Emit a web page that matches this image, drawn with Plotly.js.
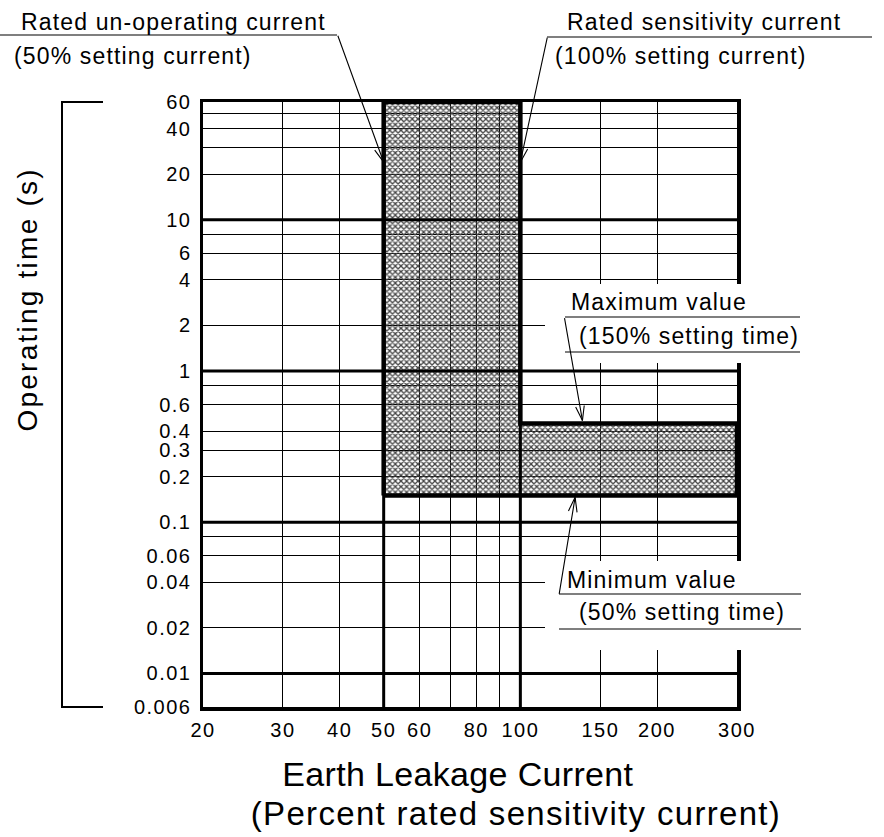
<!DOCTYPE html>
<html><head><meta charset="utf-8">
<script src="https://cdn.plot.ly/plotly-3.0.1.min.js"></script>
<style>
body{margin:0;background:#fff}
#chart{width:884px;height:837px}
.xtick text,.ytick text{letter-spacing:1.5px}
.annotation-text{letter-spacing:0.05em}
g.annotation[data-index="20"] text{letter-spacing:0.01em}
g.annotation[data-index="21"] text{letter-spacing:0.04em}
g.annotation[data-index="22"] text{letter-spacing:0.08em}
</style></head><body><div id="chart"></div><script>
const FONT = '"Liberation Sans", Arial, sans-serif';

// ---- data ----
const xTickVals = [20, 30, 40, 50, 60, 80, 100, 150, 200, 300];
const xTickText = ['20', '30', '40', '50', '60', '80', '100', '150', '200', '300'];
const xMinorGrid = [70, 90];
const xHeavyGrid = [50, 100];
const yTickVals = [60, 40, 20, 10, 6, 4, 2, 1, 0.6, 0.4, 0.3, 0.2, 0.1, 0.06, 0.04, 0.02, 0.01, 0.006];
const yTickText = ['60', '40', '20', '10', '6', '4', '2', '1', '0.6', '0.4', '0.3', '0.2', '0.1', '0.06', '0.04', '0.02', '0.01', '0.006'];
const yMinorGrid = [50, 30, 8, 0.8, 0.08];
const yHeavyGrid = [10, 1, 0.1, 0.01];
const xRange = [20, 300];
const yRange = [0.006, 60];
// operating zone (percent current, seconds)
const regionCurrent = [50, 50, 100, 100, 300, 300, 50];
const regionTime = [0.15, 60, 60, 0.45, 0.45, 0.15, 0.15];

// ---- layout helpers ----
const L = 203, T = 102, W = 534, H = 605;
const PX = p => (p - L) / W;
const PY = p => (T + H - p) / H;

// heavy grid lines built from arrays
const hx = [], hy = [];
xHeavyGrid.forEach(v => { hx.push(v, v, null); hy.push(yRange[0], yRange[1], null); });
yHeavyGrid.forEach(v => { hx.push(xRange[0], xRange[1], null); hy.push(v, v, null); });

const traces = [
  {
    x: regionCurrent, y: regionTime, type: 'scatter', mode: 'lines',
    fill: 'toself', fillcolor: 'rgba(0,0,0,0)',
    fillpattern: {shape: 'x', size: 4, solidity: 0.55, fgcolor: '#444'},
    line: {color: '#000', width: 4.5}, hoverinfo: 'skip', showlegend: false
  },
  {
    x: hx, y: hy, type: 'scatter', mode: 'lines',
    line: {color: '#000', width: 3}, hoverinfo: 'skip', showlegend: false
  }
];

// leader lines (pixel offsets of tail from head)
const leaders = [
  {x: 50, y: 24, ax: -46, ay: -127},
  {x: 100, y: 24, ax: 27, ay: -125},
  {x: 137, y: 0.47, ax: -18, ay: -103},
  {x: 132, y: 0.146, ax: -16, ay: 97}
];
const annotations = [];
leaders.forEach(ld => {
  const base = {x: Math.log10(ld.x), y: Math.log10(ld.y), xref: 'x', yref: 'y', text: '',
    showarrow: true, arrowhead: 0, arrowwidth: 1.1, arrowcolor: '#000', font: {size: 1}, borderpad: 0};
  annotations.push(Object.assign({}, base, {ax: ld.ax, ay: ld.ay}));
  const len = Math.hypot(ld.ax, ld.ay);
  const ux = -ld.ax / len, uy = -ld.ay / len;
  const px = -uy, py = ux;
  const Lh = 15, w = 4.5;
  [1, -1].forEach(s => {
    annotations.push(Object.assign({}, base, {ax: -Lh * ux + s * w * px, ay: -Lh * uy + s * w * py}));
  });
});

function txt(text, xpx, ypx, size, anchor) {
  return {text: text, xref: 'paper', yref: 'paper', x: PX(xpx), y: PY(ypx),
    xanchor: anchor || 'left', yanchor: 'middle', showarrow: false,
    font: {family: FONT, size: size, color: '#000'}};
}
annotations.push(
  txt('Rated un-operating current', 19, 22, 23),
  txt('(50% setting current)', 12, 56, 23),
  txt('Rated sensitivity current', 565, 22, 23),
  txt('(100% setting current)', 553, 56, 23),
  txt('Maximum value', 569, 302, 23),
  txt('(150% setting time)', 577, 336, 23),
  txt('Minimum value', 565, 580, 23),
  txt('(50% setting time)', 577, 612, 23),
  txt('Earth Leakage Current', 458, 774, 34, 'center'),
  txt('(Percent rated sensitivity current)', 516, 813, 33, 'center')
);
const yt = txt('Operating time (s)', 27, 300, 28, 'center');
yt.textangle = -90;
annotations.push(yt);

const ln = (x0, y0, x1, y1, w) => ({type: 'line', xref: 'paper', yref: 'paper', layer: 'above',
  x0: PX(x0), y0: PY(y0), x1: PX(x1), y1: PY(y1), line: {color: '#000', width: w || 1.2}});
const box = (x0, y0, x1, y1) => ({type: 'rect', xref: 'paper', yref: 'paper', layer: 'above',
  x0: PX(x0), y0: PY(y0), x1: PX(x1), y1: PY(y1), fillcolor: '#fff', line: {width: 0}});

const shapes = [
  box(545, 284, 806, 363),
  box(545, 561, 806, 650),
  ln(0, 35, 337, 35), ln(547, 37, 872, 37),
  ln(565, 317, 800, 317), ln(565, 352, 800, 352),
  ln(559, 594, 801, 594), ln(559, 629, 801, 629),
  {type: 'path', xref: 'paper', yref: 'paper', layer: 'above',
   path: `M${PX(103)},${PY(102)} L${PX(62)},${PY(102)} L${PX(62)},${PY(707)} L${PX(103)},${PY(707)}`,
   line: {color: '#000', width: 2}}
];

const axisCommon = {type: 'log', showline: true, linewidth: 3.5, linecolor: '#000', mirror: true,
  showgrid: true, gridcolor: '#000', gridwidth: 1, ticks: '', zeroline: false,
  tickfont: {family: FONT, size: 20, color: '#000'}};

const layout = {
  width: 884, height: 837,
  margin: {l: L, r: 884 - L - W, t: T, b: 837 - T - H},
  paper_bgcolor: '#fff', plot_bgcolor: '#fff',
  showlegend: false, hovermode: false,
  xaxis: Object.assign({}, axisCommon, {
    range: xRange.map(Math.log10), tickvals: xTickVals, ticktext: xTickText, tickmode: 'array',
    ticklabelstandoff: 2,
    minor: {tickvals: xMinorGrid, showgrid: true, gridcolor: '#000', gridwidth: 1, ticks: ''}
  }),
  yaxis: Object.assign({}, axisCommon, {
    range: yRange.map(Math.log10), tickvals: yTickVals, ticktext: yTickText, tickmode: 'array',
    ticklabelstandoff: 4,
    minor: {tickvals: yMinorGrid, showgrid: true, gridcolor: '#000', gridwidth: 1, ticks: ''}
  }),
  annotations: annotations,
  shapes: shapes
};

Plotly.newPlot('chart', traces, layout, {displayModeBar: false, staticPlot: true});
</script></body></html>
